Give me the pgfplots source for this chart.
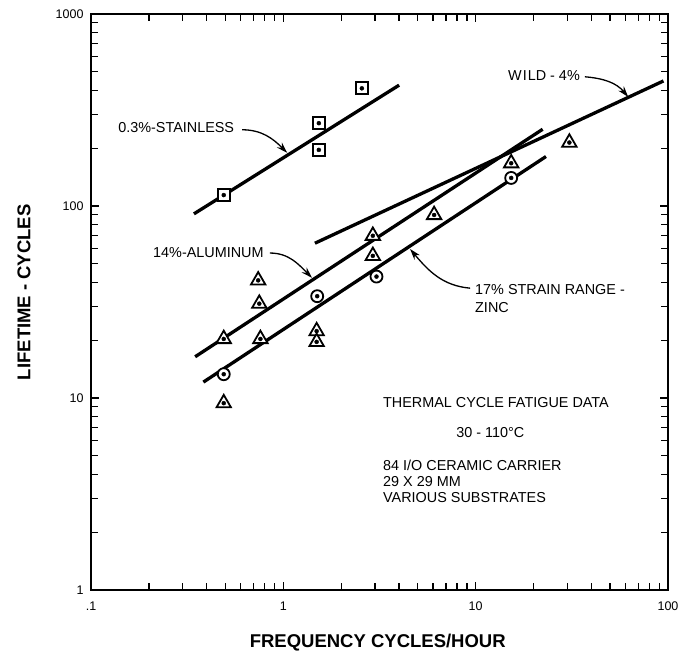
\documentclass[border=0pt]{standalone}
\usepackage{fontspec}
\setmainfont{Liberation Sans}
\usepackage{pgfplots}
\usepackage{pgfplotstable}
\pgfplotsset{compat=1.18}
\usetikzlibrary{arrows.meta}

\newcommand\annot{\fontsize{14.4}{17}\selectfont}

\pgfplotstableread{
x y
0.49 114
1.53 270
1.53 196
2.56 410
}\squares

\pgfplotstableread{
x y
0.49 20.3
0.49 9.4
0.74 41
0.75 31
0.76 20.3
1.49 22.3
1.49 19.6
2.92 70
2.92 55
6.08 89.8
15.3 167
30.7 214
}\triangles

\pgfplotstableread{
x y
0.49 13.3
1.5 33.9
3.05 42.9
15.3 140
}\circles

\begin{document}
\begin{tikzpicture}
\path[use as bounding box] (0,0) rectangle (684pt,656pt);
\begin{axis}[
  at={(91pt,66pt)}, anchor=south west,
  scale only axis, width=577pt, height=576pt,
  xmode=log, ymode=log,
  xmin=0.1, xmax=100, ymin=1, ymax=1000,
  xtick={0.1,1,10,100}, xticklabels={.1,1,10,100},
  ytick={1,10,100,1000}, yticklabels={1,10,100,1000},
  minor xtick={0.2,0.3,0.4,0.5,0.6,0.7,0.8,0.9,2,3,4,5,6,7,8,9,20,30,40,50,60,70,80,90},
  minor ytick={2,3,4,5,6,7,8,9,20,30,40,50,60,70,80,90,200,300,400,500,600,700,800,900},
  tick align=inside,
  major tick length=8pt, minor tick length=7pt,
  major tick style={black, line width=1.3pt},
  minor tick style={black, line width=1.3pt},
  axis line style={line width=2.2pt},
  ticklabel style={font=\fontsize{12.5}{14}\selectfont},
  xticklabel style={yshift=-8pt},
  yticklabel style={xshift=-4pt},
  xlabel={FREQUENCY CYCLES/HOUR},
  ylabel={LIFETIME - CYCLES},
  xlabel style={at={(axis description cs:0.497,-0.092)}, anchor=center, font=\fontsize{18.5}{21}\selectfont\bfseries},
  ylabel style={at={(axis description cs:-0.116,0.517)}, anchor=center, font=\fontsize{18.5}{21}\selectfont\bfseries},
  clip=false,
]
% fitted lines
\addplot[black, line width=3.3pt] coordinates {(0.343,91) (4.0,426)};
\addplot[black, line width=3.3pt] coordinates {(0.348,16.4) (22.3,251)};
\addplot[black, line width=3.3pt] coordinates {(0.384,12.1) (23.2,181)};
\addplot[black, line width=3.3pt] coordinates {(1.46,64) (94.7,448)};

% data points
\addplot[only marks, mark=square*, mark size=6pt, mark options={draw=black, fill=white, line width=1.8pt}] table {\squares};
\addplot[only marks, mark=*, mark size=2pt, mark options={draw=black, fill=black}] table {\squares};
\addplot[only marks, mark=triangle*, mark size=8.3pt, mark options={draw=black, fill=white, line width=1.8pt}] table {\triangles};
\addplot[only marks, mark=*, mark size=2pt, mark options={draw=black, fill=black}] table {\triangles};
\addplot[only marks, mark=*, mark size=6pt, mark options={draw=black, fill=white, line width=1.8pt}] table {\circles};
\addplot[only marks, mark=*, mark size=2pt, mark options={draw=black, fill=black}] table {\circles};

% annotations
\node[anchor=west, font=\annot, inner sep=0pt] at (rel axis cs:0.047,0.802) {0.3\%-STAINLESS};
\draw[-{Stealth[length=11pt,width=7pt]}, line width=1.3pt] (rel axis cs:0.262,0.799) to[out=0,in=135] (rel axis cs:0.340,0.759);

\node[anchor=west, font=\annot, inner sep=0pt] at (rel axis cs:0.1075,0.585) {14\%-ALUMINUM};
\draw[-{Stealth[length=11pt,width=7pt]}, line width=1.3pt] (rel axis cs:0.31,0.585) to[out=0,in=135] (rel axis cs:0.383,0.542);

\node[anchor=west, font=\annot, inner sep=0pt] at (rel axis cs:0.6655,0.521) {17\% STRAIN RANGE -};
\node[anchor=west, font=\annot, inner sep=0pt] at (rel axis cs:0.6655,0.491) {ZINC};
\draw[-{Stealth[length=11pt,width=7pt]}, line width=1.3pt] (rel axis cs:0.657,0.524) to[out=175,in=-50] (rel axis cs:0.553,0.592);

\node[anchor=east, font=\annot, inner sep=0pt] at (rel axis cs:0.8475,0.894) {W{\kern1pt}I{\kern1pt}LD - 4\%};
\draw[-{Stealth[length=11pt,width=7pt]}, line width=1.3pt] (rel axis cs:0.856,0.891) to[out=-5,in=130] (rel axis cs:0.931,0.856);

\node[anchor=west, font=\annot, inner sep=0pt] at (rel axis cs:0.506,0.325) {THERMAL CYCLE FATIGUE DATA};
\node[font=\annot, inner sep=0pt] at (rel axis cs:0.692,0.273) {30 - 110°C};
\node[anchor=west, font=\annot, inner sep=0pt] at (rel axis cs:0.506,0.217) {84 I/O CERAMIC CARRIER};
\node[anchor=west, font=\annot, inner sep=0pt] at (rel axis cs:0.506,0.189) {29 X 29 MM};
\node[anchor=west, font=\annot, inner sep=0pt] at (rel axis cs:0.506,0.161) {VARIOUS SUBSTRATES};
\end{axis}
\end{tikzpicture}
\end{document}
